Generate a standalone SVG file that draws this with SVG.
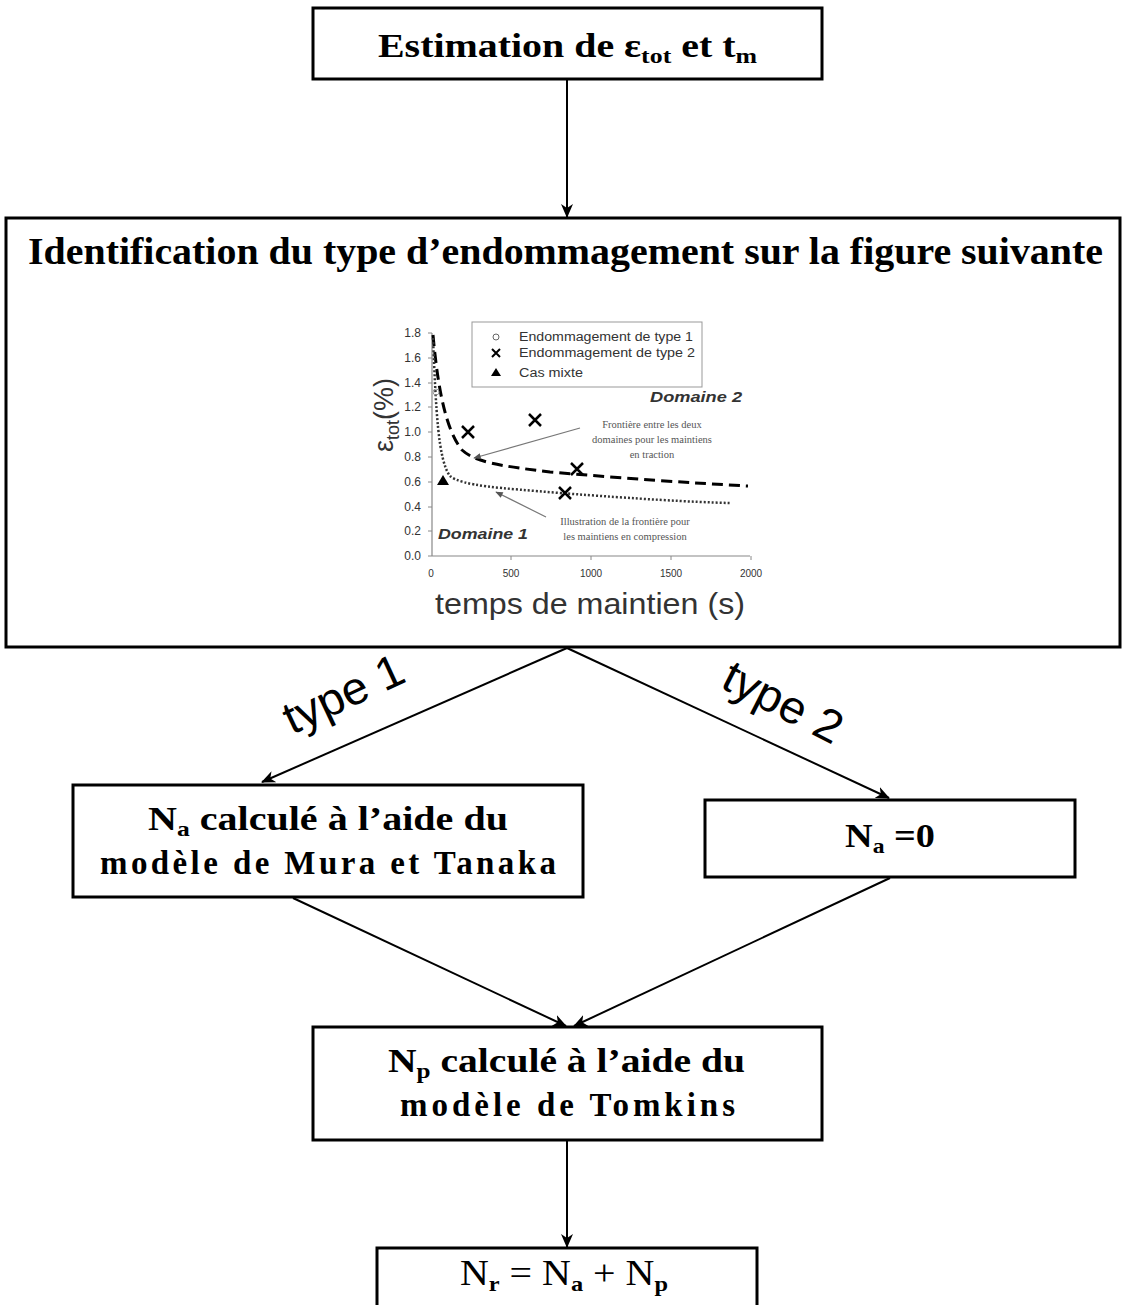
<svg xmlns="http://www.w3.org/2000/svg" width="1122" height="1305" viewBox="0 0 1122 1305">
<defs>
<marker id="arr" viewBox="0 0 14 12" refX="13" refY="6" markerWidth="14" markerHeight="12" markerUnits="userSpaceOnUse" orient="auto">
<path d="M0,0 L14,6 L0,12 L4,6 Z" fill="#000"/>
</marker>
<marker id="arrs" viewBox="0 0 10 8" refX="9" refY="4" markerWidth="8" markerHeight="6" markerUnits="userSpaceOnUse" orient="auto">
<path d="M0,0 L10,4 L0,8 Z" fill="#555"/>
</marker>
</defs>
<style>
.box{fill:#fff;stroke:#000;stroke-width:3}
.t{font-family:"Liberation Serif","Times New Roman",serif;font-weight:bold;fill:#000}
.c{stroke:#000;stroke-width:2;fill:none}
.ax{font-family:"Liberation Sans",Arial,sans-serif;fill:#333}
.an{font-family:"Liberation Serif","Times New Roman",serif;fill:#555;font-size:10.5px}
.lbl{font-family:"Liberation Sans",Arial,sans-serif;fill:#000}
</style>
<rect width="1122" height="1305" fill="#fff"/>

<g id="connectors">
<line class="c" x1="567" y1="79" x2="567" y2="217" marker-end="url(#arr)"/>
<line class="c" x1="567" y1="648" x2="262" y2="782" marker-end="url(#arr)"/>
<line class="c" x1="567" y1="648" x2="889" y2="798" marker-end="url(#arr)"/>
<line class="c" x1="293" y1="898" x2="566" y2="1026" marker-end="url(#arr)"/>
<line class="c" x1="890" y1="878" x2="574" y2="1026" marker-end="url(#arr)"/>
<line class="c" x1="567" y1="1141" x2="567" y2="1247" marker-end="url(#arr)"/>
<text class="lbl" font-size="46" transform="translate(350,708) rotate(-25)" text-anchor="middle" textLength="128" lengthAdjust="spacingAndGlyphs">type 1</text>
<text class="lbl" font-size="46" transform="translate(776,716) rotate(27)" text-anchor="middle" textLength="128" lengthAdjust="spacingAndGlyphs">type 2</text>
</g>

<g id="node-estimation">
<rect class="box" x="313" y="8" width="509" height="71"/>
<text class="t" x="378" y="57" font-size="34" textLength="379" lengthAdjust="spacingAndGlyphs">Estimation de ε<tspan font-size="22" dy="6">tot</tspan><tspan dy="-6"> et t</tspan><tspan font-size="22" dy="6">m</tspan></text>
</g>

<g id="node-identification">
<rect class="box" x="6" y="218" width="1114" height="429"/>
<text class="t" x="28" y="264" font-size="38" textLength="1075" lengthAdjust="spacingAndGlyphs">Identification du type d’endommagement sur la figure suivante</text>
<g id="chart">
<line x1="432" y1="333" x2="432" y2="556" stroke="#888" stroke-width="1.2"/>
<line x1="432" y1="556" x2="750" y2="556" stroke="#888" stroke-width="1.2"/>
<g stroke="#888" stroke-width="1">
<line x1="428" y1="333" x2="432" y2="333"/><line x1="428" y1="358" x2="432" y2="358"/>
<line x1="428" y1="383" x2="432" y2="383"/><line x1="428" y1="407" x2="432" y2="407"/>
<line x1="428" y1="432" x2="432" y2="432"/><line x1="428" y1="457" x2="432" y2="457"/>
<line x1="428" y1="482" x2="432" y2="482"/><line x1="428" y1="507" x2="432" y2="507"/>
<line x1="428" y1="531" x2="432" y2="531"/><line x1="428" y1="556" x2="432" y2="556"/>
<line x1="511" y1="556" x2="511" y2="560"/><line x1="591" y1="556" x2="591" y2="560"/>
<line x1="671" y1="556" x2="671" y2="560"/><line x1="751" y1="556" x2="751" y2="560"/>
</g>
<g class="ax" font-size="12" text-anchor="end">
<text x="421" y="337">1.8</text><text x="421" y="362">1.6</text><text x="421" y="387">1.4</text>
<text x="421" y="411">1.2</text><text x="421" y="436">1.0</text><text x="421" y="461">0.8</text>
<text x="421" y="486">0.6</text><text x="421" y="511">0.4</text><text x="421" y="535">0.2</text>
<text x="421" y="560">0.0</text>
</g>
<g class="ax" font-size="10" text-anchor="middle">
<text x="431" y="577">0</text><text x="511" y="577">500</text><text x="591" y="577">1000</text>
<text x="671" y="577">1500</text><text x="751" y="577">2000</text>
</g>
<text class="ax" font-size="27" fill="#222" transform="translate(393,415) rotate(-90)" text-anchor="middle">ε<tspan font-size="18" dy="6">tot</tspan><tspan dy="-6">(%)</tspan></text>
<text class="ax" font-size="29" fill="#222" x="435" y="614" textLength="310" lengthAdjust="spacingAndGlyphs">temps de maintien (s)</text>
<rect x="472" y="322" width="230" height="65" fill="none" stroke="#999" stroke-width="1"/>
<circle cx="496" cy="337" r="3" fill="none" stroke="#666" stroke-width="1"/>
<path d="M492,349 L500,357 M500,349 L492,357" stroke="#000" stroke-width="2"/>
<path d="M496,368 L501,376 L491,376 Z" fill="#000"/>
<g class="ax" font-size="12" fill="#444">
<text x="519" y="341" textLength="174" lengthAdjust="spacingAndGlyphs">Endommagement de type 1</text>
<text x="519" y="357" textLength="176" lengthAdjust="spacingAndGlyphs">Endommagement de type 2</text>
<text x="519" y="377" textLength="64" lengthAdjust="spacingAndGlyphs">Cas mixte</text>
</g>
<text class="ax" font-size="15" font-weight="bold" font-style="italic" fill="#222" x="650" y="402" textLength="92" lengthAdjust="spacingAndGlyphs">Domaine 2</text>
<text class="ax" font-size="15" font-weight="bold" font-style="italic" fill="#222" x="438" y="539" textLength="90" lengthAdjust="spacingAndGlyphs">Domaine 1</text>
<path d="M433,335 C438,390 446,430 462,450 C475,462 500,466 550,472 C620,478 690,483 748,486" fill="none" stroke="#000" stroke-width="3" stroke-dasharray="11 6"/>
<path d="M433,338 C436,410 438,460 450,476 C462,486 500,488 560,493 C640,499 690,502 730,503" fill="none" stroke="#333" stroke-width="2.5" stroke-dasharray="2 2"/>
<circle cx="436" cy="392" r="3" fill="none" stroke="#999" stroke-width="1"/>
<g stroke="#000" stroke-width="2.5">
<path d="M462,426 L474,438 M474,426 L462,438"/>
<path d="M529,414 L541,426 M541,414 L529,426"/>
<path d="M571,463 L583,475 M583,463 L571,475"/>
<path d="M559,487 L571,499 M571,487 L559,499"/>
</g>
<path d="M443,475 L449,485 L437,485 Z" fill="#000"/>
<line x1="580" y1="428" x2="474" y2="458" stroke="#777" stroke-width="1.2" marker-end="url(#arrs)"/>
<line x1="546" y1="517" x2="496" y2="492" stroke="#777" stroke-width="1.2" marker-end="url(#arrs)"/>
<g class="an" text-anchor="middle">
<text x="652" y="428">Frontière entre les deux</text>
<text x="652" y="443">domaines pour les maintiens</text>
<text x="652" y="458">en traction</text>
<text x="625" y="525">Illustration de la frontière pour</text>
<text x="625" y="540">les maintiens en compression</text>
</g>
</g>
</g>

<g id="node-type1">
<rect class="box" x="73" y="785" width="510" height="112"/>
<text class="t" x="148" y="830" font-size="33" textLength="360" lengthAdjust="spacingAndGlyphs">N<tspan font-size="21" dy="6">a</tspan><tspan dy="-6"> calculé à l’aide du</tspan></text>
<text class="t" x="100" y="874" font-size="33" textLength="456" lengthAdjust="spacing">modèle de Mura et Tanaka</text>
</g>

<g id="node-type2">
<rect class="box" x="705" y="800" width="370" height="77"/>
<text class="t" x="845" y="847" font-size="34" textLength="90" lengthAdjust="spacingAndGlyphs">N<tspan font-size="21" dy="6">a</tspan><tspan dy="-6"> =0</tspan></text>
</g>

<g id="node-tomkins">
<rect class="box" x="313" y="1027" width="509" height="113"/>
<text class="t" x="388" y="1072" font-size="33" textLength="357" lengthAdjust="spacingAndGlyphs">N<tspan font-size="21" dy="6">p</tspan><tspan dy="-6"> calculé à l’aide du</tspan></text>
<text class="t" x="400" y="1116" font-size="33" textLength="335" lengthAdjust="spacing">modèle de Tomkins</text>
</g>

<g id="node-result">
<rect class="box" x="377" y="1248" width="380" height="80"/>
<text class="t" x="460" y="1285" font-size="36" style="font-weight:normal" textLength="208" lengthAdjust="spacingAndGlyphs">N<tspan font-size="22" style="font-weight:bold" dy="6">r</tspan><tspan dy="-6"> = N</tspan><tspan font-size="22" style="font-weight:bold" dy="6">a</tspan><tspan dy="-6"> + N</tspan><tspan font-size="22" style="font-weight:bold" dy="6">p</tspan></text>
</g>
</svg>
